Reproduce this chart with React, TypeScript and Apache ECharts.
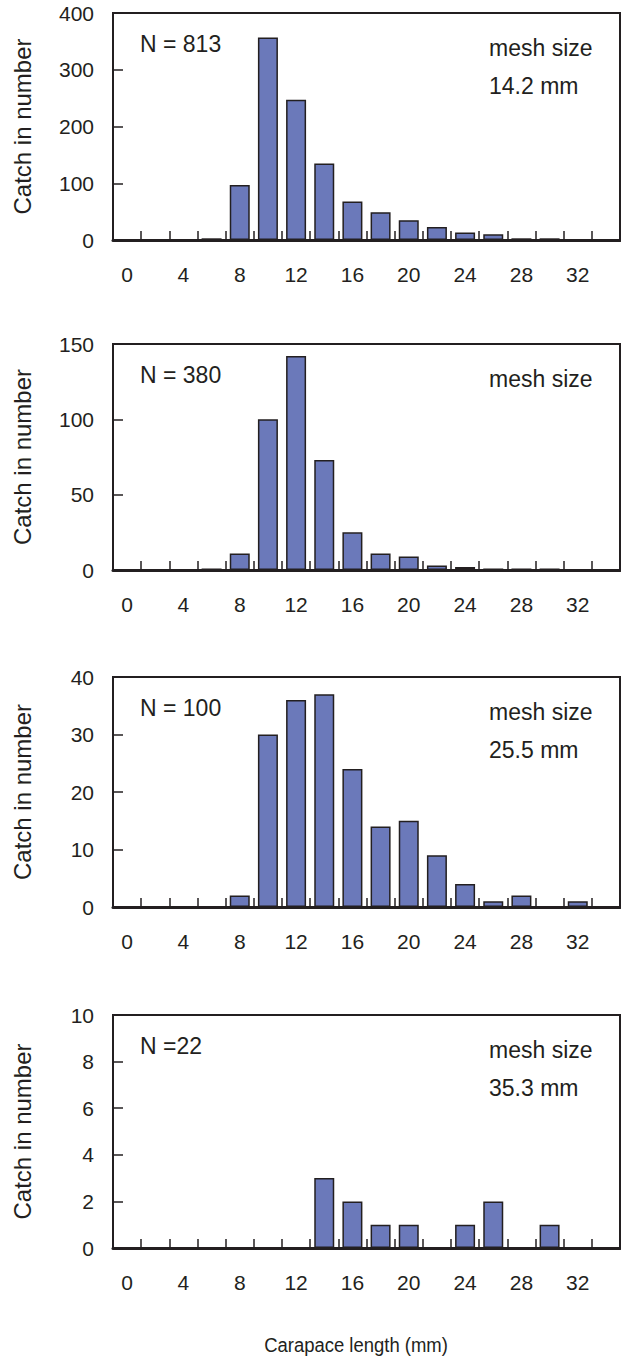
import React, { useEffect, useRef } from "react";
import * as echarts from "echarts";

const categories = ["0","2","4","6","8","10","12","14","16","18","20","22","24","26","28","30","32","34"];

const catch142 = [0,0,0,3,97,357,247,135,68,49,35,23,13,10,3,3,0,0];
const catch195 = [0,0,0,1,11,100,142,73,25,11,9,3,2,1,1,1,0,0];
const catch255 = [0,0,0,0,2,30,36,37,24,14,15,9,4,1,2,0,1,0];
const catch353 = [0,0,0,0,0,0,0,3,2,1,1,0,1,2,0,1,0,0];

const yMax = [400, 150, 40, 10];
const yInterval = [100, 50, 10, 2];
const nLabels = ["N = 813", "N = 380", "N = 100", "N =22"];
const meshLabels = ["14.2 mm", "", "25.5 mm", "35.3 mm"];

const yTitle = "Catch in number";
const xTitle = "Carapace length (mm)";

const seriesData = [catch142, catch195, catch255, catch353];

const gridTops = [13, 344, 677, 1015];
const gridHeights = [227, 226, 230, 233];
const GL = 113;
const GW = 507;
const INK = "#231f20";
const FONT = "Liberation Sans, Arial, sans-serif";

export default function App() {
  const ref = useRef<HTMLDivElement>(null);
  useEffect(() => {
    if (!ref.current) return;
    const chart = echarts.init(ref.current, undefined, { renderer: "svg" });
    const grids = gridTops.map((t, i) => ({
      left: GL, top: t, width: GW, height: gridHeights[i],
      show: true, borderColor: INK, borderWidth: 2, backgroundColor: "transparent",
    }));
    const xAxes = gridTops.map((_, i) => ({
      type: "category", gridIndex: i, data: categories, boundaryGap: true,
      axisLine: { show: true, lineStyle: { color: INK, width: 3 } },
      axisTick: { show: true, inside: true, length: 9, interval: 0, lineStyle: { color: INK, width: 1.5 } },
      axisLabel: { interval: 1, margin: 24, fontSize: 21, color: INK, fontFamily: FONT },
      splitLine: { show: false },
    }));
    const yAxes = gridTops.map((_, i) => ({
      type: "value", gridIndex: i, min: 0, max: yMax[i], interval: yInterval[i],
      axisLine: { show: true, lineStyle: { color: INK, width: 2 } },
      axisTick: { show: true, inside: true, length: 10, lineStyle: { color: INK, width: 1.5 } },
      axisLabel: { margin: 19, fontSize: 21, color: INK, fontFamily: FONT },
      splitLine: { show: false },
    }));
    const series = seriesData.map((d, i) => ({
      type: "bar", xAxisIndex: i, yAxisIndex: i,
      data: d.map((v) => (v === 0 ? null : v)),
      barWidth: 20,
      itemStyle: { color: "#6b79ba", borderColor: INK, borderWidth: 1.5 },
    }));
    const graphics: any[] = [];
    gridTops.forEach((t, i) => {
      graphics.push({
        type: "text", x: 22, y: t + gridHeights[i] / 2, rotation: Math.PI / 2,
        style: { text: yTitle, fontSize: 24, fill: INK, fontFamily: FONT, textAlign: "center", textVerticalAlign: "middle" },
      });
      graphics.push({
        type: "text", x: 140, y: t + 31,
        style: { text: nLabels[i], fontSize: 23, fill: INK, fontFamily: FONT, textAlign: "left", textVerticalAlign: "middle" },
      });
      graphics.push({
        type: "text", x: 489, y: t + 35,
        style: { text: "mesh size", fontSize: 23, fill: INK, fontFamily: FONT, textAlign: "left", textVerticalAlign: "middle" },
      });
      if (meshLabels[i]) {
        graphics.push({
          type: "text", x: 489, y: t + 73,
          style: { text: meshLabels[i], fontSize: 23, fill: INK, fontFamily: FONT, textAlign: "left", textVerticalAlign: "middle" },
        });
      }
    });
    graphics.push({
      type: "text", x: 356, y: 1345, scaleX: 0.88,
      style: { text: xTitle, fontSize: 21, fill: INK, fontFamily: FONT, textAlign: "center", textVerticalAlign: "middle" },
    });
    chart.setOption({
      animation: false,
      backgroundColor: "#ffffff",
      grid: grids,
      xAxis: xAxes,
      yAxis: yAxes,
      series,
      graphic: graphics,
    });
    return () => chart.dispose();
  }, []);
  return <div ref={ref} style={{ position: "absolute", left: 0, top: 0, width: 621, height: 1358 }} />;
}
